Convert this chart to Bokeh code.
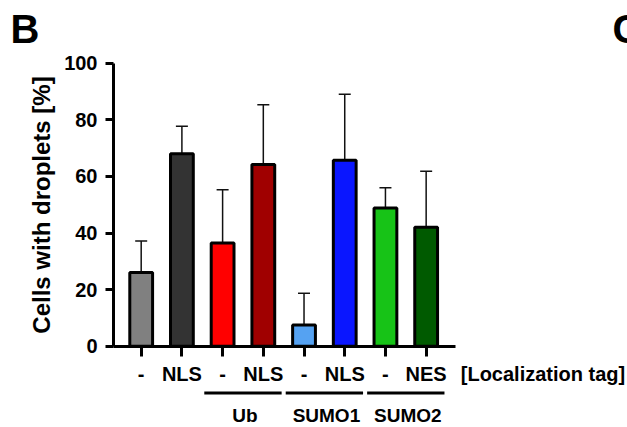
from bokeh.plotting import figure
from bokeh.models import (Range1d, FixedTicker, Whisker, TeeHead, ColumnDataSource,
                          Label)
from bokeh.embed import file_html
from bokeh.resources import INLINE

# ---- data ----
tags = ["-", "NLS", "-", "NLS", "-", "NLS", "-", "NES"]
values = [26.0, 68.0, 36.5, 64.2, 7.5, 65.7, 48.8, 42.0]
sd = [11.2, 9.7, 18.8, 21.1, 11.2, 23.3, 7.2, 19.8]
colors = ["#808080", "#333333", "#ff0000", "#a00000",
          "#55a2f2", "#0a16ff", "#17c317", "#005a00"]
groups = ["Ub", "SUMO1", "SUMO2"]
group_members = [[2, 3], [4, 5], [6, 7]]
y_ticks = [0, 20, 40, 60, 80, 100]
y_label = "Cells with droplets [%]"
tag_title = "[Localization tag]"

FONT = "Liberation Sans"

xs = list(range(len(values)))
src = ColumnDataSource(dict(
    x=xs, top=values, upper=[v + e for v, e in zip(values, sd)], color=colors))

# axes extents (data units)
X_LO, X_HI = -0.68, 7.72
Y_LO, Y_HI = 0, 100

# whole canvas is the frame; axes are fixed at data locations
p = figure(width=627, height=427,
           x_range=Range1d(-3.456, 11.946), y_range=Range1d(-28.73, 122.16),
           output_backend="svg", toolbar_location=None,
           min_border_left=0, min_border_right=0,
           min_border_top=0, min_border_bottom=0,
           y_axis_label=y_label)
p.outline_line_color = None
p.xgrid.visible = False
p.ygrid.visible = False
p.background_fill_color = "white"
p.border_fill_color = "white"

# y axis
ya = p.yaxis[0]
ya.fixed_location = X_LO
ya.bounds = (Y_LO, Y_HI)
ya.ticker = FixedTicker(ticks=y_ticks)
ya.axis_line_width = 3
ya.major_tick_line_width = 3
ya.major_tick_out = 8
ya.major_tick_in = 0
ya.minor_tick_line_color = None
ya.major_label_text_font = FONT
ya.major_label_text_font_style = "bold"
ya.major_label_text_font_size = "20px"
ya.major_label_text_color = "black"
ya.major_label_standoff = 8
ya.axis_label_text_font = FONT
ya.axis_label_text_font_style = "bold"
ya.axis_label_text_font_size = "24px"
ya.axis_label_text_color = "black"
ya.axis_label_standoff = 6

# x axis
xa = p.xaxis[0]
xa.fixed_location = Y_LO
xa.bounds = (X_LO, X_HI)
xa.ticker = FixedTicker(ticks=xs)
xa.major_label_overrides = {i: t for i, t in enumerate(tags)}
xa.axis_line_width = 3
xa.major_tick_line_width = 3
xa.major_tick_out = 10
xa.major_tick_in = 0
xa.minor_tick_line_color = None
xa.major_label_text_font = FONT
xa.major_label_text_font_style = "bold"
xa.major_label_text_font_size = "20px"
xa.major_label_text_color = "black"
xa.major_label_standoff = 7

# bars
p.vbar(x="x", top="top", width=0.56, bottom=0, fill_color="color",
       line_color="black", line_width=3, source=src)

# error bars (upper only)
p.add_layout(Whisker(base="x", upper="upper", lower="top", source=src,
                     line_color="#111111", line_width=1.5,
                     upper_head=TeeHead(size=12, line_width=1.5, line_color="#111111"),
                     lower_head=None))

# group underlines and names
g_x0 = [min(m) - 0.45 for m in group_members]
g_x1 = [max(m) + 0.45 for m in group_members]
g_xc = [sum(m) / len(m) + 0.05 for m in group_members]
p.segment(x0=g_x0, x1=g_x1, y0=[-16.5] * len(groups), y1=[-16.5] * len(groups),
          line_color="black", line_width=3)
for name, xc in zip(groups, g_xc):
    p.add_layout(Label(x=xc, y=-24.6, text=name,
                       text_align="center", text_baseline="alphabetic",
                       text_font=FONT, text_font_style="bold",
                       text_font_size="19px", text_color="black"))

p.add_layout(Label(x=7.85, y=-10.0, text=tag_title, text_align="left",
                   text_baseline="alphabetic", text_font=FONT,
                   text_font_style="bold", text_font_size="20px",
                   text_color="black"))

# panel letters
p.add_layout(Label(x=-3.21, y=112.1, text="B", text_align="left",
                   text_baseline="alphabetic", text_font=FONT,
                   text_font_style="bold", text_font_size="40px",
                   text_color="black"))
p.add_layout(Label(x=11.58, y=112.1, text="C", text_align="left",
                   text_baseline="alphabetic", text_font=FONT,
                   text_font_style="bold", text_font_size="40px",
                   text_color="black"))

open("out.html", "w").write(file_html(p, INLINE))
